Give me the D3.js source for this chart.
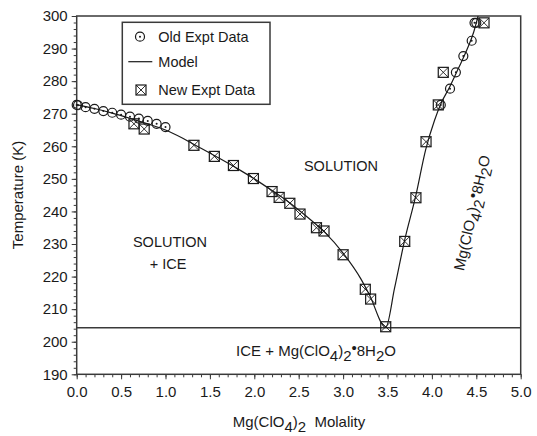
<!DOCTYPE html>
<html><head><meta charset="utf-8">
<script src="https://cdn.jsdelivr.net/npm/d3@7"></script>
<style>
body{margin:0;background:#fff}
text{font-family:"Liberation Sans",Arial,Helvetica,sans-serif;fill:#1a1a1a}
</style>
</head><body>
<svg id="c" width="537" height="436"></svg>
<script>
// ---- data ----
const oldMolality = [0.0, 0.015, 0.1, 0.2, 0.3, 0.4, 0.5, 0.6, 0.7, 0.8, 0.9, 1.0,
                     4.10, 4.204, 4.27, 4.354, 4.448, 4.48, 4.50];
const oldTemp     = [272.7, 272.6, 272.0, 271.5, 270.8, 270.3, 269.7, 269.1, 268.5, 267.8, 266.9, 265.9,
                     272.7, 277.7, 282.7, 287.7, 292.4, 297.9, 297.9];
const newMolality = [0.645, 0.76, 1.32, 1.55, 1.765, 1.99, 2.20, 2.28, 2.40, 2.515, 2.70, 2.785,
                     3.00, 3.25, 3.31, 3.48, 3.694, 3.82, 3.934, 4.072, 4.128, 4.587];
const newTemp     = [266.9, 265.3, 260.3, 256.9, 254.1, 250.1, 246.1, 244.3, 242.5, 239.2, 235.0, 234.0,
                     226.7, 216.1, 213.1, 204.6, 230.8, 244.2, 261.4, 272.7, 282.7, 297.9];
const modelMolality = [0.0, 0.2, 0.4, 0.6, 0.8, 1.0, 1.2, 1.4, 1.6, 1.8, 2.0, 2.2, 2.4, 2.6, 2.8, 3.0, 3.2, 3.3, 3.48,
                       3.58, 3.69, 3.82, 3.93, 4.03, 4.10, 4.20, 4.30, 4.40, 4.47, 4.52];
const modelTemp     = [272.8, 271.6, 270.2, 268.6, 266.9, 265.0, 262.4, 259.4, 256.4, 253.3, 250.0, 246.4, 242.6, 238.2, 233.4, 227.2, 219.3, 214.2, 204.4,
                       216.5, 230.8, 245.0, 259.0, 268.0, 273.0, 278.2, 284.0, 290.0, 295.0, 300.0];
const eutecticTemp = 204.3;
const xTicks = [0, 0.5, 1.0, 1.5, 2.0, 2.5, 3.0, 3.5, 4.0, 4.5, 5.0];
const yTicks = [190, 200, 210, 220, 230, 240, 250, 260, 270, 280, 290, 300];
const legendLabels = ["Old Expt Data", "Model", "New Expt Data"];

// ---- layout ----
const svg = d3.select("#c");
const L = 76.7, R = 520.7, T = 16, B = 374.3;
const x = d3.scaleLinear().domain([0, 5]).range([L, R]);
const y = d3.scaleLinear().domain([190, 300]).range([B, T]);
const ink = "#1a1a1a", frame = "#3a3a3a";

svg.append("defs").append("clipPath").attr("id", "clip")
  .append("rect").attr("x", L).attr("y", T).attr("width", R - L).attr("height", B - T);

// minor ticks
const xMinor = d3.range(0, 50.5, 1).map(d => d / 10);
const yMinor = d3.range(190, 301, 2);
svg.append("g").attr("transform", `translate(0,${B})`)
  .call(d3.axisBottom(x).tickValues(xMinor).tickSize(3).tickFormat(""))
  .call(g => g.select(".domain").remove())
  .call(g => g.selectAll("line").attr("stroke", frame));
svg.append("g").attr("transform", `translate(${L},0)`)
  .call(d3.axisLeft(y).tickValues(yMinor).tickSize(3).tickFormat(""))
  .call(g => g.select(".domain").remove())
  .call(g => g.selectAll("line").attr("stroke", frame));

// major axes
const xAxis = svg.append("g").attr("transform", `translate(0,${B})`)
  .call(d3.axisBottom(x).tickValues(xTicks).tickSize(5).tickPadding(7).tickFormat(d3.format(".1f")));
const yAxis = svg.append("g").attr("transform", `translate(${L},0)`)
  .call(d3.axisLeft(y).tickValues(yTicks).tickSize(5).tickPadding(4).tickFormat(d3.format("d")));
[xAxis, yAxis].forEach(g => {
  g.select(".domain").remove();
  g.selectAll("line").attr("stroke", frame);
  g.selectAll("text").attr("font-size", 15).attr("fill", ink)
    .style("font-family", '"Liberation Sans",Arial,sans-serif');
});

// frame
svg.append("rect").attr("x", L).attr("y", T).attr("width", R - L).attr("height", B - T)
  .attr("fill", "none").attr("stroke", frame).attr("stroke-width", 1.5);

// eutectic line
svg.append("line").attr("x1", L).attr("x2", R).attr("y1", y(eutecticTemp)).attr("y2", y(eutecticTemp))
  .attr("stroke", frame).attr("stroke-width", 1.5);

// model line
const model = modelMolality.map((m, i) => [m, modelTemp[i]]);
svg.append("path").datum(model).attr("clip-path", "url(#clip)")
  .attr("fill", "none").attr("stroke", ink).attr("stroke-width", 1.2)
  .attr("d", d3.line().x(d => x(d[0])).y(d => y(d[1])).curve(d3.curveMonotoneX));

// markers
function circleMark(g, cx, cy) {
  g.append("circle").attr("cx", cx).attr("cy", cy).attr("r", 4.5)
    .attr("fill", "none").attr("stroke", ink).attr("stroke-width", 1.2);
  g.append("circle").attr("cx", cx).attr("cy", cy).attr("r", 1).attr("fill", ink);
}
function squareMark(g, cx, cy) {
  const h = 5;
  g.append("rect").attr("x", cx - h).attr("y", cy - h).attr("width", 2 * h).attr("height", 2 * h)
    .attr("fill", "none").attr("stroke", ink).attr("stroke-width", 1.2);
  g.append("path").attr("d", `M${cx - h},${cy - h}L${cx + h},${cy + h}M${cx + h},${cy - h}L${cx - h},${cy + h}`)
    .attr("stroke", ink).attr("stroke-width", 0.9);
}
const gOld = svg.append("g");
oldMolality.forEach((m, i) => circleMark(gOld, x(m), y(oldTemp[i])));
const gNew = svg.append("g");
newMolality.forEach((m, i) => squareMark(gNew, x(m), y(newTemp[i])));

// legend
const lg = svg.append("g");
lg.append("rect").attr("x", 122.3).attr("y", 22.3).attr("width", 147.7).attr("height", 82)
  .attr("fill", "#fff").attr("stroke", frame).attr("stroke-width", 1.5);
circleMark(lg, 140, 36.7);
lg.append("line").attr("x1", 128.3).attr("x2", 152.3).attr("y1", 61.7).attr("y2", 61.7)
  .attr("stroke", ink).attr("stroke-width", 1.2);
squareMark(lg, 141, 90);
[36.7, 61.7, 90].forEach((yy, i) => {
  lg.append("text").attr("x", 158.3).attr("y", yy).attr("dy", "0.35em")
    .attr("font-size", 14.5).text(legendLabels[i]);
});

// region labels
function plain(txt, xx, yy, anchor) {
  return svg.append("text").attr("x", xx).attr("y", yy).attr("text-anchor", anchor || "middle")
    .attr("font-size", 14.5).text(txt);
}
plain("SOLUTION", 341, 171);
plain("SOLUTION", 170, 247);
plain("+ ICE", 168, 269);

function formula(parent, parts) {
  parts.forEach(([t, s, fs]) => {
    parent.append("tspan").attr("baseline-shift", s).attr("font-size", fs || null).text(t);
  });
}
const bottomLbl = svg.append("text").attr("x", 316).attr("y", 356).attr("text-anchor", "middle").attr("font-size", 15);
formula(bottomLbl, [["ICE + Mg(ClO", 0], ["4", -5], [")", 0], ["2", -5], ["•", 3], ["8H", 0], ["2", -5], ["O", 0]]);

const rotLbl = svg.append("text").attr("transform", "translate(477,214) rotate(-77)")
  .attr("text-anchor", "middle").attr("font-size", 15);
formula(rotLbl, [["Mg(ClO", 0], ["4", -5], [")", 0], ["2", -5], ["•", 3], ["8H", 0], ["2", -5], ["O", 0]]);

const xLbl = svg.append("text").attr("x", 299).attr("y", 427).attr("text-anchor", "middle").attr("font-size", 15);
formula(xLbl, [["Mg(ClO", 0], ["4", -5], [")", 0], ["2", -5], ["\u00a0 Molality", 0]]);

svg.append("text").attr("transform", "translate(23,195) rotate(-90)").attr("text-anchor", "middle")
  .attr("font-size", 15).text("Temperature (K)");
</script>
</body></html>
